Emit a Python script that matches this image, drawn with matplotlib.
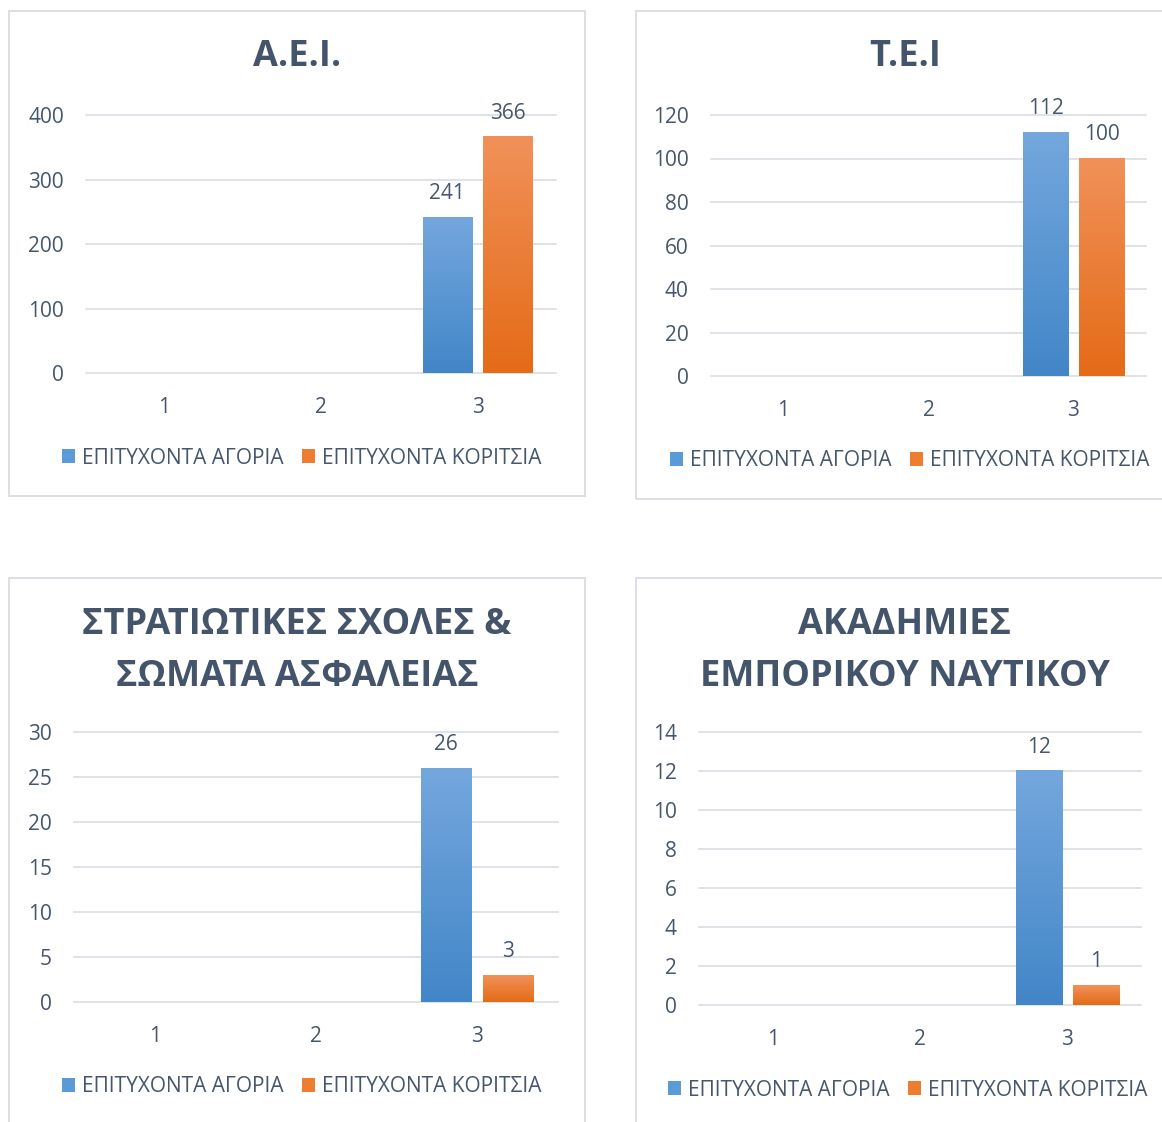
import numpy as np
import matplotlib
matplotlib.use('Agg')
import matplotlib.pyplot as plt
from matplotlib.patches import Rectangle, Patch
from matplotlib.colors import to_rgb

plt.rcParams['font.family'] = ['Open Sans', 'DejaVu Sans']

# ---------------- data ----------------
categories = [1, 2, 3]
category_labels = ['1', '2', '3']
series_names = ['ΕΠΙΤΥΧΟΝΤΑ ΑΓΟΡΙΑ', 'ΕΠΙΤΥΧΟΝΤΑ ΚΟΡΙΤΣΙΑ']

aei_title = 'Α.Ε.Ι.'
aei_boys = [np.nan, np.nan, 241]
aei_girls = [np.nan, np.nan, 366]
aei_yticks = [0, 100, 200, 300, 400]

tei_title = 'Τ.Ε.Ι'
tei_boys = [np.nan, np.nan, 112]
tei_girls = [np.nan, np.nan, 100]
tei_yticks = [0, 20, 40, 60, 80, 100, 120]

strat_title = 'ΣΤΡΑΤΙΩΤΙΚΕΣ ΣΧΟΛΕΣ &\nΣΩΜΑΤΑ ΑΣΦΑΛΕΙΑΣ'
strat_boys = [np.nan, np.nan, 26]
strat_girls = [np.nan, np.nan, 3]
strat_yticks = [0, 5, 10, 15, 20, 25, 30]

akad_title = 'ΑΚΑΔΗΜΙΕΣ\nΕΜΠΟΡΙΚΟΥ ΝΑΥΤΙΚΟΥ'
akad_boys = [np.nan, np.nan, 12]
akad_girls = [np.nan, np.nan, 1]
akad_yticks = [0, 2, 4, 6, 8, 10, 12, 14]

# ---------------- style ----------------
W, H = 1162, 1122
TITLE_C = '#44546A'
TEXT_C = '#46566C'
GRID_C = '#D9DEE4'
BORDER_C = '#D9DCE0'
BLUE_TOP, BLUE_BOT, BLUE_MID = '#74A7DD', '#4286C8', '#5B9BD5'
ORANGE_TOP, ORANGE_BOT, ORANGE_MID = '#F19159', '#E46B17', '#ED7D31'
FS = 15
BAR_W = 0.315
OFF = 0.193


def fx(px):
    return px / W


def fy(py):
    return 1 - py / H


def gradient_fill(ax, bars, top, bottom):
    t = np.array(to_rgb(top))
    b = np.array(to_rgb(bottom))
    n = 256
    frac = np.linspace(0, 1, n)[:, None]
    img = (b[None, :] * (1 - frac) + t[None, :] * frac)[:, None, :]
    for p in bars:
        h = p.get_height()
        if not np.isfinite(h) or h <= 0:
            continue
        x0 = p.get_x()
        x1 = x0 + p.get_width()
        y0 = p.get_y()
        ax.imshow(img, extent=[x0, x1, y0, y0 + h], origin='lower',
                  aspect='auto', zorder=3, interpolation='bilinear')


fig = plt.figure(figsize=(W / 100, H / 100), dpi=100)

panels = [
    dict(title=aei_title, boys=aei_boys, girls=aei_girls, yticks=aei_yticks,
         ax=(86, 115, 556, 373), title_xy=(297, 57), legend_xy=(301.5, 458),
         border=(8.5, 10.5, 585.5, 496)),
    dict(title=tei_title, boys=tei_boys, girls=tei_girls, yticks=tei_yticks,
         ax=(711, 115, 1146, 376), title_xy=(905, 57), legend_xy=(909.5, 461),
         border=(635.5, 10.5, 1175, 499)),
    dict(title=strat_title, boys=strat_boys, girls=strat_girls, yticks=strat_yticks,
         ax=(74, 732, 558, 1002), title_xy=(297, 651), legend_xy=(301.5, 1087),
         border=(8.5, 577.5, 585.5, 1140)),
    dict(title=akad_title, boys=akad_boys, girls=akad_girls, yticks=akad_yticks,
         ax=(699, 732, 1141, 1005), title_xy=(905, 651), legend_xy=(908, 1090),
         border=(635.5, 577.5, 1175, 1140)),
]

for P in panels:
    l, t, r, b = P['ax']
    ax = fig.add_axes([fx(l), fy(b), (r - l) / W, (b - t) / H])
    x = np.array(categories, dtype=float)
    bars_b = ax.bar(x - OFF, P['boys'], BAR_W, color=BLUE_MID, zorder=2, linewidth=0)
    bars_g = ax.bar(x + OFF, P['girls'], BAR_W, color=ORANGE_MID, zorder=2, linewidth=0)
    gradient_fill(ax, bars_b, BLUE_TOP, BLUE_BOT)
    gradient_fill(ax, bars_g, ORANGE_TOP, ORANGE_BOT)
    for bars in (bars_b, bars_g):
        for p in bars:
            h = p.get_height()
            if np.isfinite(h):
                ax.annotate(f'{int(h)}', (p.get_x() + p.get_width() / 2, h),
                            xytext=(0, 17), textcoords='offset points',
                            ha='center', va='center', fontsize=FS, color=TEXT_C,
                            zorder=5)
    ax.set_xlim(0.5, 3.5)
    ax.set_ylim(P['yticks'][0], P['yticks'][-1])
    ax.set_yticks(P['yticks'])
    ax.set_xticks(categories)
    ax.set_xticklabels(category_labels)
    ax.tick_params(axis='both', length=0, labelsize=FS, labelcolor=TEXT_C)
    ax.tick_params(axis='y', pad=16)
    ax.tick_params(axis='x', pad=17.5)
    for s in ax.spines.values():
        s.set_visible(False)
    ax.set_axisbelow(True)
    ax.yaxis.grid(True, color=GRID_C, linewidth=1.2, zorder=0)
    ax.xaxis.grid(False)
    ax.set_facecolor('none')
    for gl in ax.get_ygridlines():
        gl.set_clip_on(False)

    fig.text(fx(P['title_xy'][0]), fy(P['title_xy'][1]), P['title'],
             ha='center', va='center', fontsize=26, fontweight='bold',
             color=TITLE_C, linespacing=1.6)

    handles = [Patch(facecolor=BLUE_MID, edgecolor='none'),
               Patch(facecolor=ORANGE_MID, edgecolor='none')]
    fig.legend(handles, series_names, loc='center',
               bbox_to_anchor=(fx(P['legend_xy'][0]), fy(P['legend_xy'][1])),
               ncol=2, frameon=False, fontsize=FS, labelcolor=TEXT_C,
               handlelength=0.62, handleheight=0.62, handletextpad=0.32,
               columnspacing=0.9, borderpad=0, borderaxespad=0)

    bx0, by0, bx1, by1 = P['border']
    fig.add_artist(Rectangle((fx(bx0), fy(by1)), (bx1 - bx0) / W, (by1 - by0) / H,
                             transform=fig.transFigure, fill=False,
                             edgecolor=BORDER_C, linewidth=1.3, zorder=0))

fig.savefig('out.png', dpi=100, facecolor='white')
